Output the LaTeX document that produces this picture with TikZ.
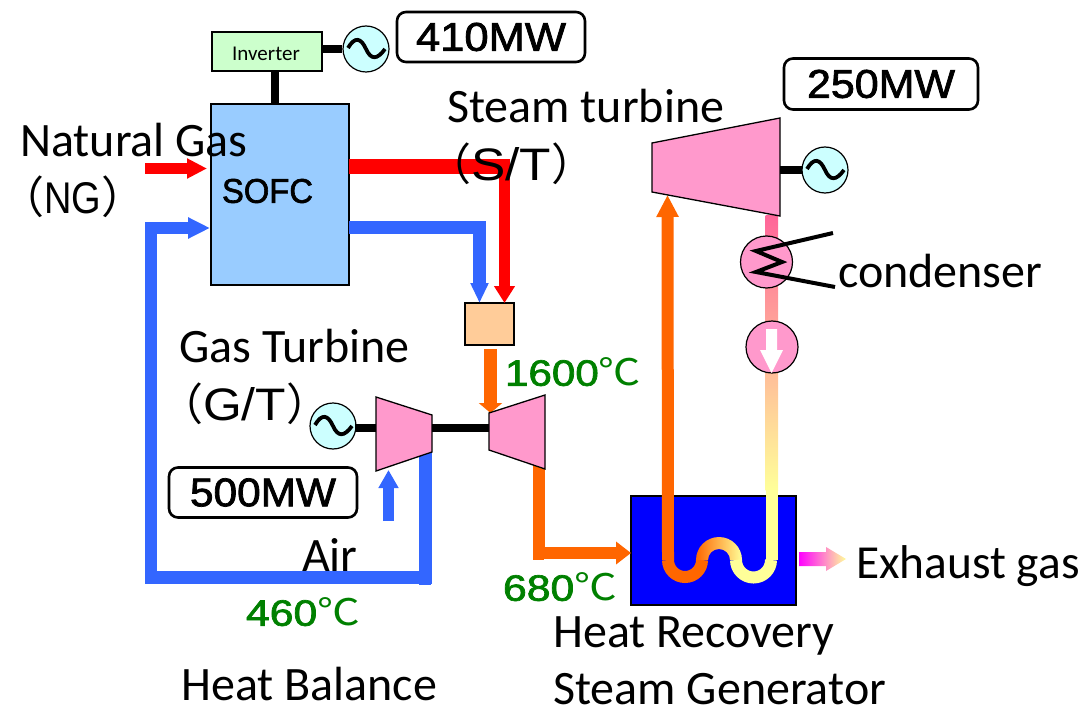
\documentclass[tikz,border=0pt]{standalone}
\usepackage{fontspec}
\usepackage{graphicx}
\setmainfont{Carlito}
\newfontfamily\ars{Liberation Sans}
\newfontfamily\arsb[FakeBold=1.8]{Liberation Sans}
\newfontfamily\cj{Noto Sans CJK JP}
\usetikzlibrary{arrows.meta}
\definecolor{cblue}{HTML}{3366FF}
\definecolor{corange}{HTML}{FF6600}
\definecolor{cpink}{HTML}{FF99CC}
\definecolor{cgen}{HTML}{CCFFFF}
\definecolor{cyel}{HTML}{FFFF99}
\definecolor{cgreen}{HTML}{008000}
\definecolor{cstream}{HTML}{FF6699}
\tikzset{
  lbl/.style={inner sep=0pt,font=\fontsize{48}{48}\selectfont,text=black},
  par/.style={inner sep=0pt,font=\fontsize{44}{44}\selectfont,text=black},
  arl/.style={inner sep=0pt,font=\arsb\fontsize{40}{40}\selectfont},
  temp/.style={inner sep=0pt,text=cgreen,font=\arsb\fontsize{34}{34}\selectfont},
  mwbox/.style={draw=black,line width=2.6pt,rounded corners=9pt,fill=white,inner sep=0pt,font=\arsb\fontsize{30}{30}\selectfont},
  boxs/.style={draw=black,line width=1.2pt,inner sep=0pt},
  gennode/.style={circle,draw=black,line width=1.2pt,fill=cgen,minimum size=46pt,inner sep=0pt},
  rotor/.style={draw=black,line width=1.3pt,fill=cpink,line join=miter},
  shaft/.style={draw=black,line width=8pt},
  pipe/.style={line width=12pt,line join=miter},
}
\newcommand{\gensym}[3]{%
  \node[gennode] (#1) at (#2,#3) {};
  \draw[line width=3.8pt,line cap=butt] ([shift={(-18pt,1pt)}]#1.center) .. controls ([shift={(-11pt,13pt)}]#1.center) and ([shift={(-5pt,11pt)}]#1.center) .. (#1.center) .. controls ([shift={(5pt,-11pt)}]#1.center) and ([shift={(11pt,-11pt)}]#1.center) .. ([shift={(19pt,0pt)}]#1.center);
}
\newcommand{\parlabel}[4]{{\cj （}\resizebox{#1pt}{#2pt}{\ars #3}{\cj ）}}
\begin{document}
\begin{tikzpicture}[x=1pt,y=-1pt]
\useasboundingbox (0,0) rectangle (1083,711);
% condensate line
\shade[top color=cstream,bottom color=cyel] (765.5,216) rectangle (778,490);
% boxes
\node[boxs,fill={rgb,255:red,204;green,255;blue,204},minimum width=110pt,minimum height=39pt] (inv) at (267,51.5) {};
\node[boxs,fill={rgb,255:red,153;green,204;blue,255},minimum width=138pt,minimum height=181pt] (sofc) at (280,194.5) {};
\node[boxs,fill={rgb,255:red,255;green,204;blue,153},minimum width=49pt,minimum height=42pt] (mix) at (489.5,324) {};
\node[boxs,fill=blue,minimum width=165pt,minimum height=109pt] (hrsg) at (713.5,550.5) {};
\path[fill=cyel] (765.5,490) rectangle (778,560);
% ports
\coordinate (sofcTop) at (275,104);
\coordinate (invBot) at (275,71);
\coordinate (ngStart) at (145,168.5);
\coordinate (ngEnd) at (207,168.5);
\coordinate (redOut) at (349,166.5);
\coordinate (redCorner) at (504.5,166.5);
\coordinate (redIn) at (504.5,303);
\coordinate (blueOut) at (349,227.5);
\coordinate (blueCorner) at (479.5,227.5);
\coordinate (blueIn) at (479.5,303);
\coordinate (mixOut) at (490.5,349);
\coordinate (c1) at (376,397);\coordinate (c2) at (432,415);\coordinate (c3) at (432,452);\coordinate (c4) at (376,471);
\coordinate (t1) at (489,413);\coordinate (t2) at (545,395);\coordinate (t3) at (545,469);\coordinate (t4) at (489,450);
\coordinate (s1) at (652,143);\coordinate (s2) at (780,118);\coordinate (s3) at (780,216);\coordinate (s4) at (652,192);
\coordinate (airStart) at (388.5,521);
\coordinate (airEnd) at (388.5,470);
\coordinate (compOut) at (425,453);
\coordinate (retA) at (425,577.5);
\coordinate (retB) at (150.5,577.5);
\coordinate (retC) at (150.5,228);
\coordinate (retD) at (210,228);
\coordinate (gtOut) at (538.5,465);
\coordinate (gtB) at (538.5,553);
\coordinate (gtC) at (631,553);
\coordinate (ssIn) at (668,560);
\coordinate (ssOut) at (667.5,195);
% flows
\draw[line width=11pt,red,-{Triangle[length=20pt,width=19pt]}] (ngStart) -- (ngEnd);
\draw[line width=15pt,red] (redOut) -- (redCorner);
\fill[red] (499,159) rectangle (510,174);
\draw[line width=11pt,red,-{Triangle[length=17pt,width=20pt]}] (redCorner) -- (redIn);
\draw[pipe,cblue,line width=13pt,-{Triangle[length=20pt,width=17pt]}] (blueOut) -- (blueCorner) -- (blueIn);
\draw[pipe,cblue,-{Triangle[length=22pt,width=20pt]}] (retB) -- (retC) -- (retD);
\draw[pipe,cblue,line width=13pt] (compOut) -- (retA) -- (retB);
\fill[cblue] (419,571) rectangle (431,585);
\fill[cblue] (145,571) rectangle (156,584);
\draw[line width=11pt,cblue,-{Triangle[length=18pt,width=19pt]}] (airStart) -- (airEnd);
\draw[line width=13pt,corange,-{Triangle[length=10pt,width=23pt]}] (mixOut) -- (mixOut |- t1);
\draw[pipe,corange,-{Triangle[length=15pt,width=22pt]}] (gtOut) -- (gtB) -- (gtC);
\fill[corange] (533,465) rectangle (544,560);
% HRSG tube
\draw[line width=12pt,corange,-{Triangle[length=22pt,width=21pt]}] (ssIn) -- (ssOut);
\draw[line width=12pt,corange] (668,560) arc (180:360:17pt);
\shade[left color=corange,right color=cyel] (696,560) arc (180:0:23pt) -- (730,560) arc (0:180:11pt) -- cycle;
\draw[line width=12pt,cyel] (736,560) arc (180:360:17.5pt);
% exhaust
\path[left color=magenta,right color=cyel,shading=axis,shading angle=90] (799,552) -- (826,552) -- (826,547) -- (846,559) -- (826,571) -- (826,566) -- (799,566) -- cycle;
% rotors
\draw[rotor] (c1) -- (c2) -- (c3) -- (c4) -- cycle;
\draw[rotor] (t1) -- (t2) -- (t3) -- (t4) -- cycle;
\draw[rotor] (s1) -- (s2) -- (s3) -- (s4) -- cycle;
% generators and shafts
\gensym{g1}{366}{49}
\gensym{g2}{825}{170}
\gensym{g3}{333}{426}
\draw[shaft] (inv.east |- g1) -- (g1.west);
\draw[shaft] (invBot) -- (sofcTop);
\coordinate (gs3) at (376,428);
\coordinate (cs) at (432,428);
\coordinate (ts) at (489,428);
\coordinate (ss2) at (780,170);
\draw[shaft] (gs3) -- (355,428);
\draw[shaft] (cs) -- (ts);
\draw[shaft] (ss2) -- (802,170);
% condenser and pump
\node[circle,draw=black,line width=1.2pt,fill=cpink,minimum size=52pt,inner sep=0pt] (cond) at (766.5,262) {};
\node[circle,draw=black,line width=1.2pt,fill=cpink,minimum size=52pt,inner sep=0pt] (pump) at (772,347) {};
\draw[line width=4pt,line join=miter] (833,233) -- (756,251) -- (782,262) -- (756,272) -- (835,287);
\fill[white] (766,329) -- (777,329) -- (777,350) -- (783,350) -- (771.5,373) -- (760,350) -- (766,350) -- cycle;
% value boxes
\node[mwbox,minimum width=188pt,minimum height=50pt] (mw1) at (491,37) {\resizebox{150pt}{28pt}{410MW}};
\node[mwbox,minimum width=194pt,minimum height=51pt] (mw2) at (881,84) {\resizebox{148pt}{28pt}{250MW}};
\node[mwbox,minimum width=188pt,minimum height=50pt] (mw3) at (263,492.5) {\resizebox{146pt}{28pt}{500MW}};
% texts
\node[inner sep=0pt,font=\fontsize{21}{21}\selectfont] (invl) at (266,54) {Inverter};
\node[arl] (sofcl) at (267.5,191) {\resizebox{91pt}{24pt}{SOFC}};
\node[lbl,anchor=west] (ng1) at (20,140) {Natural Gas};
\node[par,anchor=west] (ng2) at (0,197) {\parlabel{57}{31}{NG}{}};
\node[lbl,anchor=west] (st1) at (447,106) {Steam turbine};
\node[par,anchor=west] (st2) at (427,164) {\parlabel{80}{33}{S/T}{}};
\node[lbl,anchor=west] (gt1) at (179,346) {Gas Turbine};
\node[par,anchor=west] (gt2) at (159,404) {\parlabel{83}{33}{G/T}{}};
\node[lbl,anchor=west] (air) at (302,555) {Air};
\node[lbl,anchor=west] (condl) at (838,271) {condenser};
\node[lbl,anchor=west,font=\fontsize{47.4}{48}\selectfont] (exh) at (856,566) {Exhaust gas};
\node[lbl,anchor=west] (hr1) at (553,636) {Heat Recovery};
\node[lbl,anchor=west] (hr2) at (553,689) {Steam Generator};
\node[lbl,anchor=west] (hb) at (181,684) {Heat Balance};
\node[temp] (t1600) at (573,372) {\resizebox{136pt}{28pt}{1600{\cj ℃}}};
\node[temp] (t680) at (560,587) {\resizebox{114pt}{28pt}{680{\cj ℃}}};
\node[temp] (t460) at (303,612) {\resizebox{114pt}{28pt}{460{\cj ℃}}};
\end{tikzpicture}
\end{document}
